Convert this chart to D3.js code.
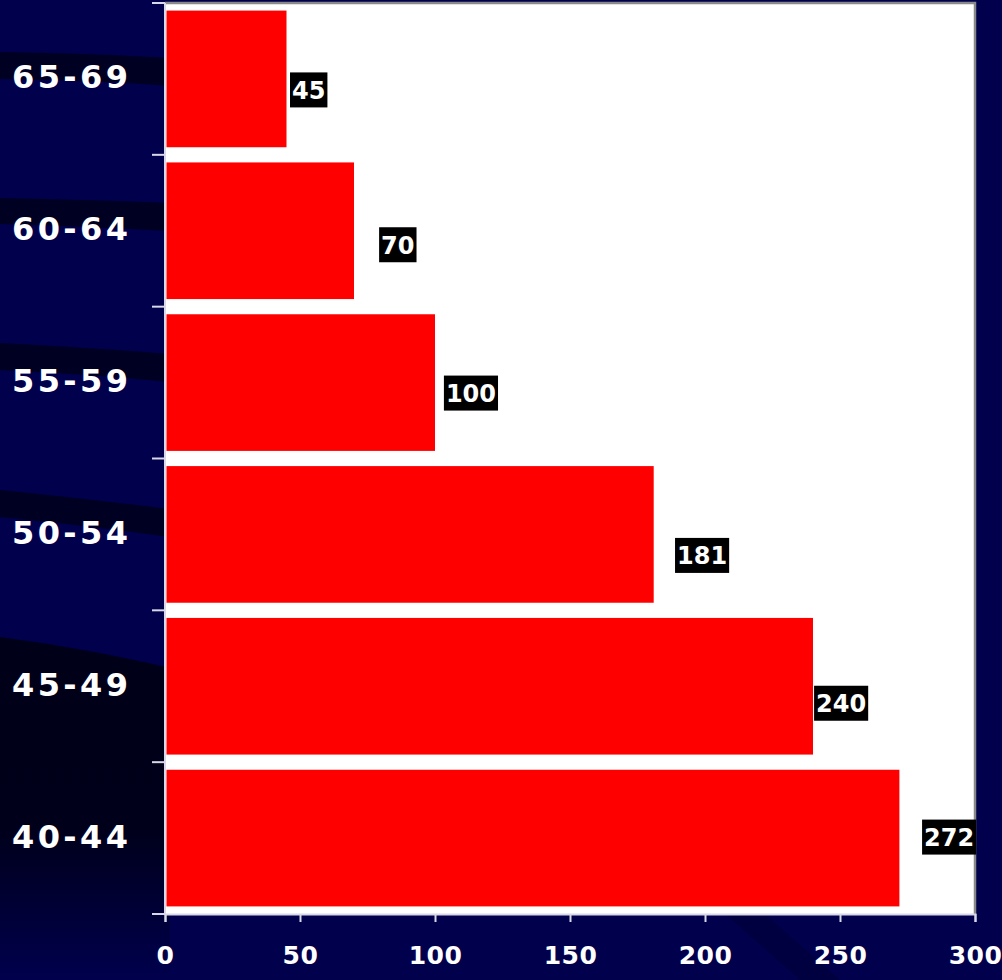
<!DOCTYPE html>
<html>
<head>
<meta charset="utf-8">
<script src="https://cdn.jsdelivr.net/npm/d3@7/dist/d3.min.js"></script>
<style>
  html, body { margin: 0; padding: 0; background: #00004d; }
  svg { display: block; }
</style>
</head>
<body>
<svg id="chart" width="1002" height="980"></svg>
<script>
// ---- data ----
const categories = ["65-69", "60-64", "55-59", "50-54", "45-49", "40-44"];
const values = [45, 70, 100, 181, 240, 272];
const xTicks = [0, 50, 100, 150, 200, 250, 300];
// label anchors (value-axis units) and vertical nudges, as placed in the original
const labelAnchor = [46.3, 79.3, 103.3, 188.9, 240.4, 280.4];
const labelNudge = [11, 14, 10.5, 21, 17, -1];

(function () {
const W = 1002, H = 980;
const svg = d3.select("#chart");
const pLeft = 165, pRight = 975, pTop = 3, pBottom = 914;

// ---- background ----
const bg = svg.append("g");
bg.append("rect").attr("width", W).attr("height", H).attr("fill", "#00004d");
const defs = svg.append("defs");
const grad = defs.append("linearGradient").attr("id", "darkgrad")
  .attr("x1", 0).attr("y1", 0).attr("x2", 0).attr("y2", 1);
grad.append("stop").attr("offset", "0%").attr("stop-color", "#000018");
grad.append("stop").attr("offset", "55%").attr("stop-color", "#00001a");
grad.append("stop").attr("offset", "100%").attr("stop-color", "#00004d");

const swooshes = [
  "M0,52 C60,53 120,55 170,58 L170,86 C120,82 60,80 0,79 Z",
  "M0,198 C60,199 120,201 170,203 L170,231 C120,228 60,226 0,224 Z",
  "M0,343 C60,346 120,350 170,354 L170,382 C120,377 60,373 0,370 Z",
  "M0,490 C60,496 120,503 170,509 L170,537 C120,530 60,523 0,517 Z"
];
swooshes.forEach(d => bg.append("path").attr("d", d).attr("fill", "#000022"));
bg.append("path")
  .attr("d", "M0,637 C60,645 120,656 170,668 L170,980 L0,980 Z")
  .attr("fill", "url(#darkgrad)");
bg.append("path")
  .attr("d", "M725,914 L765,914 L840,980 L800,980 Z")
  .attr("fill", "#000040");

// ---- scales ----
const x = d3.scaleLinear().domain([0, 300]).range([pLeft, pRight]);
const y = d3.scaleBand().domain(categories).range([pTop, pBottom])
  .paddingInner(0.1).paddingOuter(0.05);

// plot area
svg.append("rect").attr("x", pLeft).attr("y", pTop)
  .attr("width", pRight - pLeft).attr("height", pBottom - pTop).attr("fill", "#ffffff");
svg.append("path")
  .attr("d", `M${pLeft},${pTop} L${pRight},${pTop} L${pRight},${pBottom}`)
  .attr("fill", "none").attr("stroke", "#8a8a8a").attr("stroke-width", 2.5);

// bars
svg.append("g").selectAll("rect").data(categories).join("rect")
  .attr("x", x(0) + 1.5)
  .attr("y", d => y(d))
  .attr("width", (d, i) => x(values[i]) - x(0) - 1.5)
  .attr("height", y.bandwidth())
  .attr("fill", "#ff0000");

// ---- axes ----
const axisColor = "#d8d8e8";
const bounds = categories.map(c => y(c) - y.step() * y.paddingInner() / 2);
bounds.push(pBottom);
bounds[0] = pTop;
const ga = svg.append("g");
ga.append("line").attr("x1", pLeft).attr("x2", pLeft).attr("y1", pTop).attr("y2", pBottom)
  .attr("stroke", axisColor).attr("stroke-width", 2);
ga.selectAll("line.yt").data(bounds).join("line").attr("class", "yt")
  .attr("x1", pLeft - 13).attr("x2", pLeft).attr("y1", d => d).attr("y2", d => d)
  .attr("stroke", axisColor).attr("stroke-width", 2);

const gx = svg.append("g").attr("transform", `translate(0,${pBottom})`)
  .call(d3.axisBottom(x).tickValues(xTicks).tickSize(8).tickPadding(24).tickFormat(d3.format("d")));
gx.select(".domain").attr("stroke", axisColor).attr("stroke-width", 2);
gx.selectAll(".tick line").attr("stroke", axisColor).attr("stroke-width", 2);
gx.selectAll(".tick text")
  .attr("fill", "#ffffff")
  .attr("font-family", "DejaVu Sans, sans-serif")
  .attr("font-weight", "bold")
  .attr("font-size", 25)
  .attr("letter-spacing", 0.5)
  .attr("dy", "0.71em");

// category labels
svg.append("g").selectAll("text").data(categories).join("text")
  .attr("x", 12)
  .attr("y", d => y(d) + y.bandwidth() / 2 - 2)
  .attr("dy", "0.36em")
  .attr("fill", "#ffffff")
  .attr("font-family", "DejaVu Sans, sans-serif")
  .attr("font-weight", "bold")
  .attr("font-size", 32)
  .attr("letter-spacing", 3.4)
  .text(d => d);

// value labels
const lg = svg.append("g");
categories.forEach((c, i) => {
  const cy = y(c) + y.bandwidth() / 2 + labelNudge[i];
  const bx = x(labelAnchor[i]);
  const g = lg.append("g");
  const r = g.append("rect").attr("fill", "#000000");
  const t = g.append("text")
    .attr("x", bx + 2)
    .attr("y", cy + 9)
    .attr("fill", "#ffffff")
    .attr("font-family", "DejaVu Sans, sans-serif")
    .attr("font-weight", "bold")
    .attr("font-size", 24)
    .text(values[i]);
  const w = t.node().getComputedTextLength();
  r.attr("x", bx).attr("y", cy - 17.5).attr("width", w + 4).attr("height", 35);
});
})();
</script>
</body>
</html>
